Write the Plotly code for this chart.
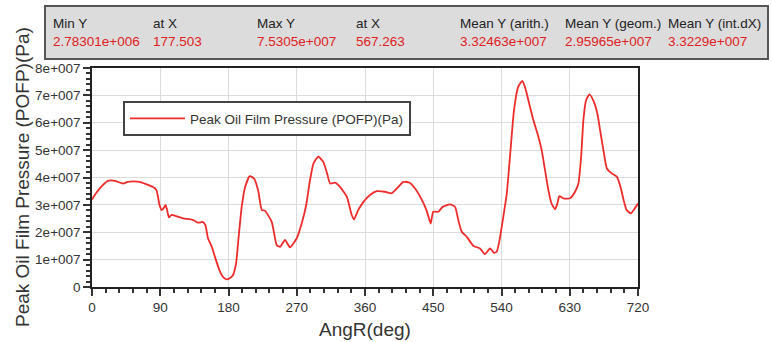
import plotly.graph_objects as go

# ---- data ----
ang_deg = [0, 6, 12, 21, 30, 41, 47, 55, 63, 72, 80, 85, 89, 92, 95, 97, 99, 101.5, 104.6, 112,
           120, 133, 140, 146, 149.5, 153, 158, 162, 168, 173, 177.5, 182, 186, 190, 193, 197.4,
           202, 208, 213.6, 219, 224, 228, 237, 243.6, 248, 254.5, 261, 270, 276.5, 282, 287.5,
           292, 298.5, 305, 310, 314, 320.5, 327, 336, 342.5, 345.5, 351, 358, 366.6, 375.5,
           386.4, 395, 404, 410.5, 419, 426, 435, 441, 445, 446.7, 450, 456.7, 462.5, 472, 478.7,
           483, 487.5, 494, 503, 511.7, 518, 525, 530, 533.7, 538, 542.4, 547, 551, 556.5, 562,
           567.3, 571, 577.6, 582, 588.6, 593, 597.4, 601.8, 606, 610.6, 613.7, 616.3, 621.6,
           630.4, 637, 641.4, 645, 648, 651.5, 656, 661, 666.4, 670, 674.4, 679, 685.4, 692,
           696.3, 701, 705, 710.4, 715, 720]
pofp_e7 = [3.2, 3.45, 3.66, 3.88, 3.88, 3.78, 3.84, 3.86, 3.84, 3.75, 3.66, 3.54, 3.0, 2.81, 2.9,
           3.0, 2.81, 2.54, 2.63, 2.58, 2.51, 2.45, 2.35, 2.38, 2.26, 1.78, 1.47, 1.11, 0.62, 0.36,
           0.278, 0.33, 0.44, 0.86, 1.72, 2.93, 3.66, 4.05, 3.97, 3.54, 2.81, 2.79, 2.38, 1.53,
           1.47, 1.72, 1.45, 1.78, 2.32, 2.93, 3.9, 4.51, 4.76, 4.57, 4.15, 3.78, 3.81, 3.66, 3.30,
           2.63, 2.47, 2.81, 3.11, 3.36, 3.50, 3.48, 3.42, 3.66, 3.84, 3.81, 3.60, 3.18, 2.81, 2.45,
           2.32, 2.75, 2.75, 2.93, 3.02, 2.93, 2.45, 2.02, 1.84, 1.50, 1.41, 1.20, 1.41, 1.25, 1.29,
           1.80, 2.57, 3.42, 4.7, 6.46, 7.31, 7.53, 7.30, 6.58, 6.10, 5.49, 5.0, 4.27, 3.54, 3.05,
           2.84, 3.05, 3.32, 3.24, 3.24, 3.48, 3.78, 4.76, 6.10, 6.82, 7.04, 6.82, 6.34, 5.73, 5.0,
           4.33, 4.15, 4.03, 3.72, 3.18, 2.81, 2.69, 2.84, 3.05]
pofp_pa = [v * 1e7 for v in pofp_e7]

series_name = "Peak Oil Film Pressure (POFP)(Pa)"
x_tickvals = [0, 90, 180, 270, 360, 450, 540, 630, 720]
y_tickvals = [0, 1e7, 2e7, 3e7, 4e7, 5e7, 6e7, 7e7, 8e7]
y_ticktext = ["0", "1e+007", "2e+007", "3e+007", "4e+007", "5e+007", "6e+007", "7e+007", "8e+007"]

stat_labels = ["Min Y", "at X", "Max Y", "at X", "Mean Y (arith.)", "Mean Y (geom.)", "Mean Y (int.dX)"]
stat_values = ["2.78301e+006", "177.503", "7.5305e+007", "567.263", "3.32463e+007", "2.95965e+007", "3.3229e+007"]

# ---- layout geometry (pixels) ----
W, H = 772, 342
L, R, T, B = 92, 638, 68, 287
pw, ph = R - L, B - T


def px(x):
    return (x - L) / pw


def py(y):
    return (B - y) / ph


FONT = "Liberation Sans, Arial, sans-serif"

fig = go.Figure()
fig.add_trace(go.Scatter(x=ang_deg, y=pofp_pa, mode="lines", name=series_name,
                         line=dict(color="#ee2b2b", width=1.8, shape="spline", smoothing=0.5)))

stat_x = [51, 151, 255, 354, 458, 563, 666]
annotations = []
for xp, lab, val in zip(stat_x, stat_labels, stat_values):
    annotations.append(dict(xref="paper", yref="paper", x=px(xp), y=py(23), text=lab,
                            showarrow=False, xanchor="left", yanchor="middle",
                            font=dict(family=FONT, size=13.5, color="#222222")))
    annotations.append(dict(xref="paper", yref="paper", x=px(xp), y=py(42), text=val,
                            showarrow=False, xanchor="left", yanchor="middle",
                            font=dict(family=FONT, size=13.5, color="#e02020")))

annotations.append(dict(xref="paper", yref="paper", x=px(22), y=py(177), text=series_name,
                        textangle=-90, showarrow=False, xanchor="center", yanchor="middle",
                        font=dict(family=FONT, size=19, color="#333333")))
annotations.append(dict(xref="paper", yref="paper", x=0.5, y=py(329), text="AngR(deg)",
                        showarrow=False, xanchor="center", yanchor="middle",
                        font=dict(family=FONT, size=19, color="#333333")))

shapes = [dict(type="rect", xref="paper", yref="paper", x0=px(45), x1=px(768), y0=py(59), y1=py(6),
               fillcolor="#dcdcdc", line=dict(color="#555555", width=2), layer="above")]

fig.update_layout(
    width=W, height=H,
    margin=dict(l=L, r=W - R, t=T, b=H - B, pad=0),
    paper_bgcolor="white", plot_bgcolor="white",
    font=dict(family=FONT, size=13, color="#333333"),
    showlegend=True,
    legend=dict(x=px(123), y=py(101), xanchor="left", yanchor="top",
                bgcolor="white", bordercolor="#444444", borderwidth=2,
                font=dict(family=FONT, size=13.5, color="#333333"),
                itemwidth=55),
    annotations=annotations,
    shapes=shapes,
    xaxis=dict(range=[0, 720], tickvals=x_tickvals, ticks="outside", ticklen=7, tickwidth=1.5,
               tickcolor="#333333", showline=True, linecolor="#222222", linewidth=1.5, mirror=True,
               showgrid=True, gridcolor="#dcdcdc", gridwidth=1, zeroline=False,
               tickfont=dict(family=FONT, size=13.5, color="#333333"),
               minor=dict(dtick=18, ticks="outside", ticklen=4, tickcolor="#333333", showgrid=False)),
    yaxis=dict(range=[0, 8e7], tickvals=y_tickvals, ticktext=y_ticktext, ticks="outside",
               ticklen=7, tickwidth=1.5, tickcolor="#333333", showline=True, linecolor="#222222",
               linewidth=1.5, mirror=True, showgrid=True, gridcolor="#dcdcdc", gridwidth=1,
               zeroline=False, tickfont=dict(family=FONT, size=13.5, color="#333333"),
               minor=dict(dtick=2e6, ticks="outside", ticklen=4, tickcolor="#333333", showgrid=False)),
)

fig.write_html("out.html")
